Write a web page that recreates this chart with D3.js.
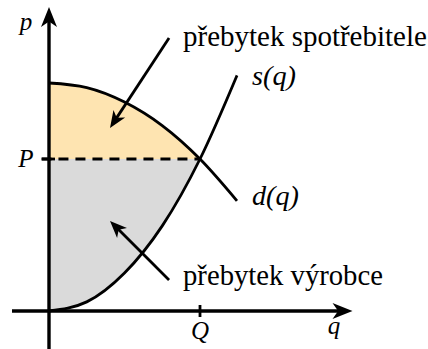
<!DOCTYPE html>
<html>
<head>
<meta charset="utf-8">
<script src="https://cdnjs.cloudflare.com/ajax/libs/d3/7.8.5/d3.min.js"></script>
<style>
  body { margin: 0; background: #fff; }
</style>
</head>
<body>
<div id="chart_area"></div>
<script>
var width = 428, height = 349;
var serif = "'Liberation Serif', 'DejaVu Serif', 'Times New Roman', serif";

// quantity q and price p
var demandQ = [0, 0.25, 0.5, 0.75, 1, 1.245];
var demandP = [1.5, 1.47, 1.375, 1.22, 1.0, 0.725];
var supplyQ = [0, 0.25, 0.5, 0.75, 1, 1.245];
var supplyP = [0, 0.06, 0.25, 0.56, 1.0, 1.55];

var eqQ = 1, eqP = 1;
var qTickLabels = ["Q"];
var pTickLabels = ["P"];
var curveLabels = ["s(q)", "d(q)"];
var areaLabels = ["přebytek spotřebitele", "přebytek výrobce"];

var demand = demandQ.map(function (q, i) { return { q: q, p: demandP[i] }; });
var supply = supplyQ.map(function (q, i) { return { q: q, p: supplyP[i] }; });

var x = d3.scaleLinear().domain([0, 1]).range([49, 200]);
var y = d3.scaleLinear().domain([0, 1]).range([311, 159]);

var svg = d3.select("#chart_area")
    .append("svg")
    .attr("width", width)
    .attr("height", height);

// shaded surplus areas
var upto = function (d) { return d.q <= eqQ; };
svg.append("path")
    .datum(demand.filter(upto))
    .attr("fill", "#fee4b1")
    .attr("d", d3.area().curve(d3.curveMonotoneX)
        .x(function (d) { return x(d.q); })
        .y0(y(eqP))
        .y1(function (d) { return y(d.p); }));
svg.append("path")
    .datum(supply.filter(upto))
    .attr("fill", "#dadada")
    .attr("d", d3.area().curve(d3.curveMonotoneX)
        .x(function (d) { return x(d.q); })
        .y0(y(eqP))
        .y1(function (d) { return y(d.p); }));

// dashed price line
svg.append("line")
    .attr("x1", x(-0.05)).attr("x2", x(eqQ))
    .attr("y1", y(eqP)).attr("y2", y(eqP))
    .attr("stroke", "#000").attr("stroke-width", 2.8)
    .attr("stroke-dasharray", "10,7");

// arrowhead like tikz stealth
function head(tx, ty, ang, len, wid) {
    var c = Math.cos(ang), s = Math.sin(ang);
    function pt(a, b) { return [tx + a * c - b * s, ty + a * s + b * c]; }
    var p1 = pt(-len, -wid / 2), p2 = pt(-len * 0.72, 0), p3 = pt(-len, wid / 2);
    return "M" + tx + "," + ty + "L" + p1 + "L" + p2 + "L" + p3 + "Z";
}

// axes
var qMin = -0.245, qMax = 2.01, pMin = -0.25, pMax = 2.0;
svg.append("line")
    .attr("x1", x(qMin)).attr("x2", x(qMax) - 12)
    .attr("y1", y(0)).attr("y2", y(0))
    .attr("stroke", "#000").attr("stroke-width", 3.4);
svg.append("path").attr("d", head(x(qMax), y(0), 0, 20, 16)).attr("fill", "#000");
svg.append("line")
    .attr("x1", x(0)).attr("x2", x(0))
    .attr("y1", y(pMin)).attr("y2", y(pMax) + 12)
    .attr("stroke", "#000").attr("stroke-width", 3.4);
svg.append("path").attr("d", head(x(0), y(pMax), -Math.PI / 2, 20, 16)).attr("fill", "#000");

// ticks
svg.append("line")
    .attr("x1", x(eqQ)).attr("x2", x(eqQ))
    .attr("y1", y(0) - 6).attr("y2", y(0) + 6)
    .attr("stroke", "#000").attr("stroke-width", 2.8);
svg.append("line")
    .attr("x1", x(0) - 7).attr("x2", x(0) + 6)
    .attr("y1", y(eqP)).attr("y2", y(eqP))
    .attr("stroke", "#000").attr("stroke-width", 2.8);

// curves
var line = d3.line().curve(d3.curveMonotoneX)
    .x(function (d) { return x(d.q); })
    .y(function (d) { return y(d.p); });
svg.append("path").datum(demand).attr("d", line)
    .attr("fill", "none").attr("stroke", "#000").attr("stroke-width", 2.8);
svg.append("path").datum(supply).attr("d", line)
    .attr("fill", "none").attr("stroke", "#000").attr("stroke-width", 2.8);

// annotation arrows
var arrows = [
    { q1: 0.795, p1: 1.796, q2: 0.404, p2: 1.204 },
    { q1: 0.795, p1: 0.204, q2: 0.404, p2: 0.592 }
];
arrows.forEach(function (a) {
    var x1 = x(a.q1), y1 = y(a.p1), x2 = x(a.q2), y2 = y(a.p2);
    var ang = Math.atan2(y2 - y1, x2 - x1);
    svg.append("line")
        .attr("x1", x1).attr("y1", y1)
        .attr("x2", x2 - 10 * Math.cos(ang)).attr("y2", y2 - 10 * Math.sin(ang))
        .attr("stroke", "#000").attr("stroke-width", 2.8);
    svg.append("path").attr("d", head(x2, y2, ang, 17, 14)).attr("fill", "#000");
});

// labels, font size fitted to the widths seen in the picture
function label(tx, ty, str, size, italic, anchor) {
    return svg.append("text")
        .attr("x", tx).attr("y", ty)
        .attr("text-anchor", anchor || "start")
        .style("font-family", serif)
        .style("font-style", italic ? "italic" : "normal")
        .style("font-size", size + "px")
        .text(str);
}
function fit(sel, target) {
    var fs = parseFloat(sel.style("font-size"));
    var len = sel.node().getComputedTextLength();
    if (len > 0) sel.style("font-size", (fs * target / len) + "px");
}
fit(label(183, 46, areaLabels[0], 22, false), 244);
fit(label(183, 285, areaLabels[1], 22, false), 200);
fit(label(252, 85, curveLabels[0], 23, true), 44);
fit(label(252, 205, curveLabels[1], 23, true), 47);
label(x(eqQ), 339, qTickLabels[0], 25, true, "middle");
label(334, 334, "q", 25, true, "middle");
label(26, 30, "p", 25, true, "middle");
label(26, 167, pTickLabels[0], 25, true, "middle");
</script>
</body>
</html>
